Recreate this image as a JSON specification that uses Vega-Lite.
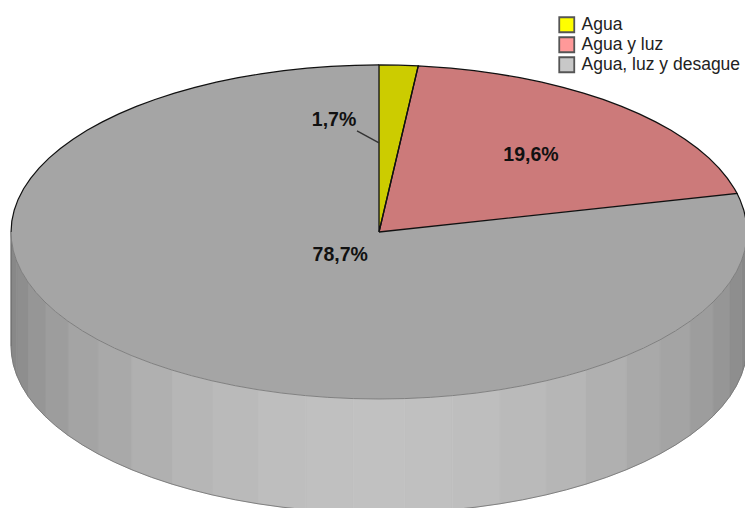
{
  "$schema": "https://vega.github.io/schema/vega-lite/v6.json",
  "width": 745,
  "height": 508,
  "padding": 0,
  "autosize": {"type": "fit", "contains": "padding"},
  "background": "white",
  "config": {"view": {"stroke": null}},
  "datasets": {
    "pared": [
      {"s":0,"b":0,"x":-0.0698,"y":-0.9976,"y2":-1.6806},{"s":0,"b":0,"x":0,"y":-1,"y2":-1.683},{"s":0,"b":0,"x":0.0698,"y":-0.9976,"y2":-1.6806},
      {"s":1,"b":1,"x":0.0698,"y":-0.9976,"y2":-1.6806},{"s":1,"b":1,"x":0.1392,"y":-0.9903,"y2":-1.6733},{"s":1,"b":1,"x":0.1994,"y":-0.9799,"y2":-1.6629},
      {"s":2,"b":2,"x":0.1994,"y":-0.9799,"y2":-1.6629},{"s":2,"b":2,"x":0.2639,"y":-0.9646,"y2":-1.6476},{"s":2,"b":2,"x":0.3289,"y":-0.9444,"y2":-1.6274},
      {"s":3,"b":3,"x":0.3289,"y":-0.9444,"y2":-1.6274},{"s":3,"b":3,"x":0.3907,"y":-0.9205,"y2":-1.6035},{"s":3,"b":3,"x":0.454,"y":-0.891,"y2":-1.574},
      {"s":4,"b":4,"x":0.454,"y":-0.891,"y2":-1.574},{"s":4,"b":4,"x":0.509,"y":-0.8607,"y2":-1.5437},{"s":4,"b":4,"x":0.5621,"y":-0.8271,"y2":-1.5101},
      {"s":5,"b":5,"x":0.5621,"y":-0.8271,"y2":-1.5101},{"s":5,"b":5,"x":0.6184,"y":-0.7859,"y2":-1.4689},{"s":5,"b":5,"x":0.6717,"y":-0.7408,"y2":-1.4238},
      {"s":6,"b":6,"x":0.6717,"y":-0.7408,"y2":-1.4238},{"s":6,"b":6,"x":0.7193,"y":-0.6947,"y2":-1.3777},{"s":6,"b":6,"x":0.7638,"y":-0.6455,"y2":-1.3285},
      {"s":7,"b":7,"x":0.7638,"y":-0.6455,"y2":-1.3285},{"s":7,"b":7,"x":0.8059,"y":-0.592,"y2":-1.275},{"s":7,"b":7,"x":0.8453,"y":-0.5344,"y2":-1.2174},
      {"s":8,"b":8,"x":0.8453,"y":-0.5344,"y2":-1.2174},{"s":8,"b":8,"x":0.8788,"y":-0.4772,"y2":-1.1602},{"s":8,"b":8,"x":0.9078,"y":-0.4195,"y2":-1.1025},
      {"s":9,"b":9,"x":0.9078,"y":-0.4195,"y2":-1.1025},{"s":9,"b":9,"x":0.9323,"y":-0.3616,"y2":-1.0446},{"s":9,"b":9,"x":0.9537,"y":-0.3007,"y2":-0.9837},
      {"s":10,"b":10,"x":0.9537,"y":-0.3007,"y2":-0.9837},{"s":10,"b":10,"x":0.9711,"y":-0.2385,"y2":-0.9215},{"s":10,"b":10,"x":0.9848,"y":-0.1736,"y2":-0.8566},
      {"s":11,"b":11,"x":0.9848,"y":-0.1736,"y2":-0.8566},{"s":11,"b":11,"x":0.9936,"y":-0.1132,"y2":-0.7962},{"s":11,"b":11,"x":0.9986,"y":-0.0523,"y2":-0.7353},
      {"s":12,"b":12,"x":0.9986,"y":-0.0523,"y2":-0.7353},{"s":12,"b":12,"x":1,"y":0,"y2":-0.683},
      {"s":-1,"b":1,"x":-0.0698,"y":-0.9976,"y2":-1.6806},{"s":-1,"b":1,"x":-0.1392,"y":-0.9903,"y2":-1.6733},{"s":-1,"b":1,"x":-0.1994,"y":-0.9799,"y2":-1.6629},
      {"s":-2,"b":2,"x":-0.1994,"y":-0.9799,"y2":-1.6629},{"s":-2,"b":2,"x":-0.2639,"y":-0.9646,"y2":-1.6476},{"s":-2,"b":2,"x":-0.3289,"y":-0.9444,"y2":-1.6274},
      {"s":-3,"b":3,"x":-0.3289,"y":-0.9444,"y2":-1.6274},{"s":-3,"b":3,"x":-0.3907,"y":-0.9205,"y2":-1.6035},{"s":-3,"b":3,"x":-0.454,"y":-0.891,"y2":-1.574},
      {"s":-4,"b":4,"x":-0.454,"y":-0.891,"y2":-1.574},{"s":-4,"b":4,"x":-0.509,"y":-0.8607,"y2":-1.5437},{"s":-4,"b":4,"x":-0.5621,"y":-0.8271,"y2":-1.5101},
      {"s":-5,"b":5,"x":-0.5621,"y":-0.8271,"y2":-1.5101},{"s":-5,"b":5,"x":-0.6184,"y":-0.7859,"y2":-1.4689},{"s":-5,"b":5,"x":-0.6717,"y":-0.7408,"y2":-1.4238},
      {"s":-6,"b":6,"x":-0.6717,"y":-0.7408,"y2":-1.4238},{"s":-6,"b":6,"x":-0.7193,"y":-0.6947,"y2":-1.3777},{"s":-6,"b":6,"x":-0.7638,"y":-0.6455,"y2":-1.3285},
      {"s":-7,"b":7,"x":-0.7638,"y":-0.6455,"y2":-1.3285},{"s":-7,"b":7,"x":-0.8059,"y":-0.592,"y2":-1.275},{"s":-7,"b":7,"x":-0.8453,"y":-0.5344,"y2":-1.2174},
      {"s":-8,"b":8,"x":-0.8453,"y":-0.5344,"y2":-1.2174},{"s":-8,"b":8,"x":-0.8788,"y":-0.4772,"y2":-1.1602},{"s":-8,"b":8,"x":-0.9078,"y":-0.4195,"y2":-1.1025},
      {"s":-9,"b":9,"x":-0.9078,"y":-0.4195,"y2":-1.1025},{"s":-9,"b":9,"x":-0.9323,"y":-0.3616,"y2":-1.0446},{"s":-9,"b":9,"x":-0.9537,"y":-0.3007,"y2":-0.9837},
      {"s":-10,"b":10,"x":-0.9537,"y":-0.3007,"y2":-0.9837},{"s":-10,"b":10,"x":-0.9711,"y":-0.2385,"y2":-0.9215},{"s":-10,"b":10,"x":-0.9848,"y":-0.1736,"y2":-0.8566},
      {"s":-11,"b":11,"x":-0.9848,"y":-0.1736,"y2":-0.8566},{"s":-11,"b":11,"x":-0.9936,"y":-0.1132,"y2":-0.7962},{"s":-11,"b":11,"x":-0.9986,"y":-0.0523,"y2":-0.7353},
      {"s":-12,"b":12,"x":-0.9986,"y":-0.0523,"y2":-0.7353},{"s":-12,"b":12,"x":-1,"y":0,"y2":-0.683}
    ],
    "sectores": [
      {"slice":"Agua","i":0,"x":0,"y":0},{"slice":"Agua","i":1,"x":0,"y":1},{"slice":"Agua","i":2,"x":0.0533,"y":0.9986},{"slice":"Agua","i":3,"x":0.1066,"y":0.9943},{"slice":"Agua","i":4,"x":0,"y":0},
      {"slice":"Agua y luz","i":0,"x":0,"y":0},{"slice":"Agua y luz","i":1,"x":0.1066,"y":0.9943},{"slice":"Agua y luz","i":2,"x":0.1951,"y":0.9808},{"slice":"Agua y luz","i":3,"x":0.2588,"y":0.9659},{"slice":"Agua y luz","i":4,"x":0.3214,"y":0.9469},{"slice":"Agua y luz","i":5,"x":0.3827,"y":0.9239},{"slice":"Agua y luz","i":6,"x":0.4423,"y":0.8969},{"slice":"Agua y luz","i":7,"x":0.5,"y":0.866},{"slice":"Agua y luz","i":8,"x":0.5556,"y":0.8315},{"slice":"Agua y luz","i":9,"x":0.6088,"y":0.7934},{"slice":"Agua y luz","i":10,"x":0.6593,"y":0.7518},{"slice":"Agua y luz","i":11,"x":0.7071,"y":0.7071},{"slice":"Agua y luz","i":12,"x":0.7518,"y":0.6593},{"slice":"Agua y luz","i":13,"x":0.7934,"y":0.6088},{"slice":"Agua y luz","i":14,"x":0.8315,"y":0.5556},{"slice":"Agua y luz","i":15,"x":0.866,"y":0.5},{"slice":"Agua y luz","i":16,"x":0.8969,"y":0.4423},{"slice":"Agua y luz","i":17,"x":0.9239,"y":0.3827},{"slice":"Agua y luz","i":18,"x":0.9469,"y":0.3214},{"slice":"Agua y luz","i":19,"x":0.9659,"y":0.2588},{"slice":"Agua y luz","i":20,"x":0.9731,"y":0.2304},{"slice":"Agua y luz","i":21,"x":0,"y":0},
      {"slice":"Agua, luz y desague","i":0,"x":0,"y":0},
      {"slice":"Agua, luz y desague","i":1,"x":0.9731,"y":0.2304,"borde":"der"},{"slice":"Agua, luz y desague","i":2,"x":0.9808,"y":0.1951,"borde":"der"},{"slice":"Agua, luz y desague","i":3,"x":0.9914,"y":0.1305,"borde":"der"},{"slice":"Agua, luz y desague","i":4,"x":0.9979,"y":0.0654,"borde":"der"},{"slice":"Agua, luz y desague","i":5,"x":1,"y":0,"borde":"der"},
      {"slice":"Agua, luz y desague","i":6,"x":0.9979,"y":-0.0654},{"slice":"Agua, luz y desague","i":7,"x":0.9914,"y":-0.1305},{"slice":"Agua, luz y desague","i":8,"x":0.9808,"y":-0.1951},{"slice":"Agua, luz y desague","i":9,"x":0.9659,"y":-0.2588},{"slice":"Agua, luz y desague","i":10,"x":0.9469,"y":-0.3214},{"slice":"Agua, luz y desague","i":11,"x":0.9239,"y":-0.3827},{"slice":"Agua, luz y desague","i":12,"x":0.8969,"y":-0.4423},{"slice":"Agua, luz y desague","i":13,"x":0.866,"y":-0.5},{"slice":"Agua, luz y desague","i":14,"x":0.8315,"y":-0.5556},{"slice":"Agua, luz y desague","i":15,"x":0.7934,"y":-0.6088},{"slice":"Agua, luz y desague","i":16,"x":0.7518,"y":-0.6593},{"slice":"Agua, luz y desague","i":17,"x":0.7071,"y":-0.7071},{"slice":"Agua, luz y desague","i":18,"x":0.6593,"y":-0.7518},{"slice":"Agua, luz y desague","i":19,"x":0.6088,"y":-0.7934},{"slice":"Agua, luz y desague","i":20,"x":0.5556,"y":-0.8315},{"slice":"Agua, luz y desague","i":21,"x":0.5,"y":-0.866},{"slice":"Agua, luz y desague","i":22,"x":0.4423,"y":-0.8969},{"slice":"Agua, luz y desague","i":23,"x":0.3827,"y":-0.9239},{"slice":"Agua, luz y desague","i":24,"x":0.3214,"y":-0.9469},{"slice":"Agua, luz y desague","i":25,"x":0.2588,"y":-0.9659},{"slice":"Agua, luz y desague","i":26,"x":0.1951,"y":-0.9808},{"slice":"Agua, luz y desague","i":27,"x":0.1305,"y":-0.9914},{"slice":"Agua, luz y desague","i":28,"x":0.0654,"y":-0.9979},{"slice":"Agua, luz y desague","i":29,"x":0,"y":-1},
      {"slice":"Agua, luz y desague","i":30,"x":-0.0654,"y":-0.9979},{"slice":"Agua, luz y desague","i":31,"x":-0.1305,"y":-0.9914},{"slice":"Agua, luz y desague","i":32,"x":-0.1951,"y":-0.9808},{"slice":"Agua, luz y desague","i":33,"x":-0.2588,"y":-0.9659},{"slice":"Agua, luz y desague","i":34,"x":-0.3214,"y":-0.9469},{"slice":"Agua, luz y desague","i":35,"x":-0.3827,"y":-0.9239},{"slice":"Agua, luz y desague","i":36,"x":-0.4423,"y":-0.8969},{"slice":"Agua, luz y desague","i":37,"x":-0.5,"y":-0.866},{"slice":"Agua, luz y desague","i":38,"x":-0.5556,"y":-0.8315},{"slice":"Agua, luz y desague","i":39,"x":-0.6088,"y":-0.7934},{"slice":"Agua, luz y desague","i":40,"x":-0.6593,"y":-0.7518},{"slice":"Agua, luz y desague","i":41,"x":-0.7071,"y":-0.7071},{"slice":"Agua, luz y desague","i":42,"x":-0.7518,"y":-0.6593},{"slice":"Agua, luz y desague","i":43,"x":-0.7934,"y":-0.6088},{"slice":"Agua, luz y desague","i":44,"x":-0.8315,"y":-0.5556},{"slice":"Agua, luz y desague","i":45,"x":-0.866,"y":-0.5},{"slice":"Agua, luz y desague","i":46,"x":-0.8969,"y":-0.4423},{"slice":"Agua, luz y desague","i":47,"x":-0.9239,"y":-0.3827},{"slice":"Agua, luz y desague","i":48,"x":-0.9469,"y":-0.3214},{"slice":"Agua, luz y desague","i":49,"x":-0.9659,"y":-0.2588},{"slice":"Agua, luz y desague","i":50,"x":-0.9808,"y":-0.1951},{"slice":"Agua, luz y desague","i":51,"x":-0.9914,"y":-0.1305},{"slice":"Agua, luz y desague","i":52,"x":-0.9979,"y":-0.0654},
      {"slice":"Agua, luz y desague","i":53,"x":-1,"y":0,"borde":"izq"},{"slice":"Agua, luz y desague","i":54,"x":-0.9979,"y":0.0654,"borde":"izq"},{"slice":"Agua, luz y desague","i":55,"x":-0.9914,"y":0.1305,"borde":"izq"},{"slice":"Agua, luz y desague","i":56,"x":-0.9808,"y":0.1951,"borde":"izq"},{"slice":"Agua, luz y desague","i":57,"x":-0.9659,"y":0.2588,"borde":"izq"},{"slice":"Agua, luz y desague","i":58,"x":-0.9469,"y":0.3214,"borde":"izq"},{"slice":"Agua, luz y desague","i":59,"x":-0.9239,"y":0.3827,"borde":"izq"},{"slice":"Agua, luz y desague","i":60,"x":-0.8969,"y":0.4423,"borde":"izq"},{"slice":"Agua, luz y desague","i":61,"x":-0.866,"y":0.5,"borde":"izq"},{"slice":"Agua, luz y desague","i":62,"x":-0.8315,"y":0.5556,"borde":"izq"},{"slice":"Agua, luz y desague","i":63,"x":-0.7934,"y":0.6088,"borde":"izq"},{"slice":"Agua, luz y desague","i":64,"x":-0.7518,"y":0.6593,"borde":"izq"},{"slice":"Agua, luz y desague","i":65,"x":-0.7071,"y":0.7071,"borde":"izq"},{"slice":"Agua, luz y desague","i":66,"x":-0.6593,"y":0.7518,"borde":"izq"},{"slice":"Agua, luz y desague","i":67,"x":-0.6088,"y":0.7934,"borde":"izq"},{"slice":"Agua, luz y desague","i":68,"x":-0.5556,"y":0.8315,"borde":"izq"},{"slice":"Agua, luz y desague","i":69,"x":-0.5,"y":0.866,"borde":"izq"},{"slice":"Agua, luz y desague","i":70,"x":-0.4423,"y":0.8969,"borde":"izq"},{"slice":"Agua, luz y desague","i":71,"x":-0.3827,"y":0.9239,"borde":"izq"},{"slice":"Agua, luz y desague","i":72,"x":-0.3214,"y":0.9469,"borde":"izq"},{"slice":"Agua, luz y desague","i":73,"x":-0.2588,"y":0.9659,"borde":"izq"},{"slice":"Agua, luz y desague","i":74,"x":-0.1951,"y":0.9808,"borde":"izq"},{"slice":"Agua, luz y desague","i":75,"x":-0.1305,"y":0.9914,"borde":"izq"},{"slice":"Agua, luz y desague","i":76,"x":-0.0654,"y":0.9979,"borde":"izq"},{"slice":"Agua, luz y desague","i":77,"x":0,"y":1,"borde":"izq"},
      {"slice":"Agua, luz y desague","i":78,"x":0,"y":0}
    ],
    "etiquetas": [
      {"serie":"Agua","share":1.7,"label":"1,7%","x":-0.1223,"y":0.67},
      {"serie":"Agua y luz","share":19.6,"label":"19,6%","x":0.413,"y":0.458},
      {"serie":"Agua, luz y desague","share":78.7,"label":"78,7%","x":-0.1055,"y":-0.136}
    ]
  },
  "encoding": {
    "x": {"field": "x", "type": "quantitative", "axis": null, "scale": {"domain": [-1.03, 0.9946], "nice": false, "zero": false}},
    "y": {"field": "y", "type": "quantitative", "axis": null, "scale": {"domain": [-1.6527, 1.389], "nice": false, "zero": false}}
  },
  "layer": [
    {
      "data": {"name": "pared"},
      "mark": {"type": "area", "orient": "vertical", "clip": true, "strokeWidth": 0.6},
      "encoding": {
        "y2": {"field": "y2"},
        "detail": {"field": "s"},
        "fill": {"field": "b", "type": "ordinal", "legend": null, "scale": {"domain": [0,1,2,3,4,5,6,7,8,9,10,11,12], "range": ["#c1c1c1","#c0c0c0","#bebebe","#bababa","#b6b6b6","#b0b0b0","#a9a9a9","#a4a4a4","#9d9d9d","#969696","#8e8e8e","#888888","#828282"]}},
        "stroke": {"field": "b", "type": "ordinal", "legend": null, "scale": {"domain": [0,1,2,3,4,5,6,7,8,9,10,11,12], "range": ["#c1c1c1","#c0c0c0","#bebebe","#bababa","#b6b6b6","#b0b0b0","#a9a9a9","#a4a4a4","#9d9d9d","#969696","#8e8e8e","#888888","#828282"]}}
      }
    },
    {
      "data": {"name": "pared"},
      "mark": {"type": "line", "clip": true, "stroke": "#777777", "strokeWidth": 0.9},
      "encoding": {"y": {"field": "y2", "type": "quantitative"}}
    },
    {
      "data": {"name": "pared"},
      "transform": [{"filter": "abs(datum.x) == 1"}],
      "mark": {"type": "rule", "clip": true, "stroke": "#666666", "strokeWidth": 1},
      "encoding": {"y2": {"field": "y2"}}
    },
    {
      "data": {"name": "sectores"},
      "mark": {"type": "line", "clip": true, "stroke": null},
      "encoding": {
        "order": {"field": "i", "type": "quantitative"},
        "fill": {"field": "slice", "type": "nominal", "legend": null, "scale": {"domain": ["Agua", "Agua y luz", "Agua, luz y desague"], "range": ["#cccc00", "#cc7a7a", "#a5a5a5"]}}
      }
    },
    {
      "data": {"name": "pared"},
      "mark": {"type": "line", "clip": true, "stroke": "#7a7a7a", "strokeWidth": 0.9}
    },
    {
      "data": {"name": "sectores"},
      "transform": [{"filter": "datum.slice != 'Agua, luz y desague'"}],
      "mark": {"type": "line", "clip": true, "stroke": "#111111", "strokeWidth": 1.3},
      "encoding": {
        "order": {"field": "i", "type": "quantitative"},
        "detail": {"field": "slice"}
      }
    },
    {
      "data": {"name": "sectores"},
      "transform": [{"filter": "isValid(datum.borde)"}],
      "mark": {"type": "line", "clip": true, "stroke": "#111111", "strokeWidth": 1.2},
      "encoding": {
        "order": {"field": "i", "type": "quantitative"},
        "detail": {"field": "borde"}
      }
    },
    {
      "data": {"values": [{"x": -0.0598, "y": 0.605, "xf": 0, "yf": 0.533}]},
      "mark": {"type": "rule", "stroke": "#333333", "strokeWidth": 1.4},
      "encoding": {"x2": {"field": "xf"}, "y2": {"field": "yf"}}
    },
    {
      "data": {"name": "etiquetas"},
      "mark": {"type": "text", "font": "Liberation Sans", "fontWeight": "bold", "fontSize": 19.5, "fill": "#111111", "align": "center", "baseline": "middle"},
      "encoding": {"text": {"field": "label"}}
    },
    {
      "data": {"name": "etiquetas"},
      "mark": {"type": "point", "shape": "square", "filled": true, "opacity": 0},
      "encoding": {
        "color": {
          "field": "serie",
          "type": "nominal",
          "scale": {"domain": ["Agua", "Agua y luz", "Agua, luz y desague"], "range": ["#ffff00", "#ff9999", "#c8c8c8"]},
          "legend": {
            "title": null,
            "orient": "none",
            "legendX": 558,
            "legendY": 16,
            "padding": 0,
            "rowPadding": -3.5,
            "symbolType": "square",
            "symbolSize": 225,
            "symbolOpacity": 1,
            "symbolStrokeColor": "#555555",
            "symbolStrokeWidth": 1.8,
            "labelFont": "Liberation Sans",
            "labelFontSize": 17.5,
            "labelColor": "#222222",
            "labelOffset": 6,
            "labelLimit": 200
          }
        }
      }
    }
  ],
  "resolve": {"scale": {"fill": "independent", "stroke": "independent", "color": "independent"}}
}
